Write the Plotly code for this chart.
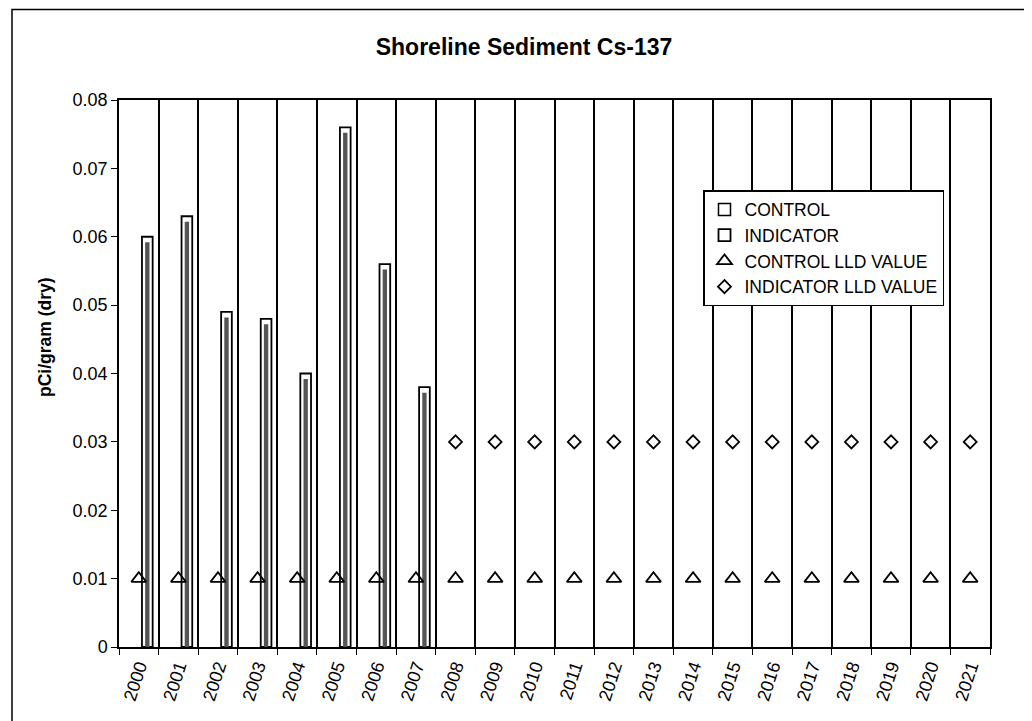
import plotly.graph_objects as go

years = [str(y) for y in range(2000, 2022)]
control = [None] * 22
indicator = [0.060, 0.063, 0.049, 0.048, 0.040, 0.076, 0.056, 0.038] + [None] * 14
control_lld = [0.01] * 22
indicator_lld = [None] * 8 + [0.03] * 14

FONT = "Arial, Liberation Sans, sans-serif"

fig = go.Figure()

fig.add_trace(go.Bar(
    x=years, y=control, name='CONTROL',
    width=0.27, offset=-0.19,
    marker=dict(color='white', line=dict(color='black', width=1.5)),
))
fig.add_trace(go.Bar(
    x=years, y=indicator, name='INDICATOR',
    width=0.27, offset=0.08,
    marker=dict(color='white', line=dict(color='black', width=1.8)),
))
# inner shading of the indicator bars
fig.add_trace(go.Bar(
    x=years, y=[v - 0.0008 if v else None for v in indicator],
    width=0.11, offset=0.16, showlegend=False, hoverinfo='skip',
    marker=dict(color='#555555', line=dict(width=0)),
))
fig.add_trace(go.Scatter(
    x=years, y=control_lld, name='CONTROL LLD VALUE', mode='markers',
    marker=dict(symbol='triangle-up-open', size=13, color='black', line=dict(width=1.8)),
))
fig.add_trace(go.Scatter(
    x=years, y=indicator_lld, name='INDICATOR LLD VALUE', mode='markers',
    marker=dict(symbol='diamond-open', size=10, color='black', line=dict(width=1.8)),
))

# page body has an 8px margin, so the figure is drawn 8px right and down
fig.update_layout(
    width=1024, height=713,
    margin=dict(l=111, r=42, t=92, b=74),
    paper_bgcolor='white', plot_bgcolor='white',
    font=dict(family=FONT, size=18, color='black'),
    barmode='overlay',
    showlegend=True,
    title=dict(text='<b>Shoreline Sediment Cs-137</b>', font=dict(size=23),
               x=516 / 1024, xref='container', xanchor='center',
               y=1 - 39 / 713, yref='container', yanchor='middle', automargin=False),
    legend=dict(x=(703 - 119) / 871, y=(647 - 190) / 547, xanchor='left', yanchor='top',
                bordercolor='black', borderwidth=1.5, bgcolor='white',
                font=dict(size=17.5), itemwidth=30, tracegroupgap=0),
)

fig.update_xaxes(
    type='category', range=[-0.5, 21.5], automargin=False,
    tickson='boundaries', showgrid=True, gridcolor='black', gridwidth=1.5,
    showline=True, linecolor='black', linewidth=1.5, mirror=True,
    ticks='outside', ticklen=6, tickcolor='black', tickangle=-72,
    tickfont=dict(size=18),
)
fig.update_yaxes(
    range=[0, 0.08], dtick=0.01, showgrid=False, zeroline=False, automargin=False,
    showline=True, linecolor='black', linewidth=1.5, mirror=True,
    ticks='outside', ticklen=6, tickcolor='black', tickfont=dict(size=18),
)

fig.add_annotation(
    text='<b>pCi/gram (dry)</b>', textangle=-90, showarrow=False,
    xref='paper', yref='paper', x=(45 - 119) / 871, y=(647 - 337) / 547,
    xanchor='center', yanchor='middle', font=dict(size=17.5),
)

# outer chart border
fig.add_shape(type='rect', xref='paper', yref='paper',
              x0=(12 - 119) / 871, x1=(1029 - 119) / 871,
              y0=(647 - 730) / 547, y1=(647 - 9.5) / 547,
              line=dict(color='black', width=1.5))

fig.write_html("out.html")
